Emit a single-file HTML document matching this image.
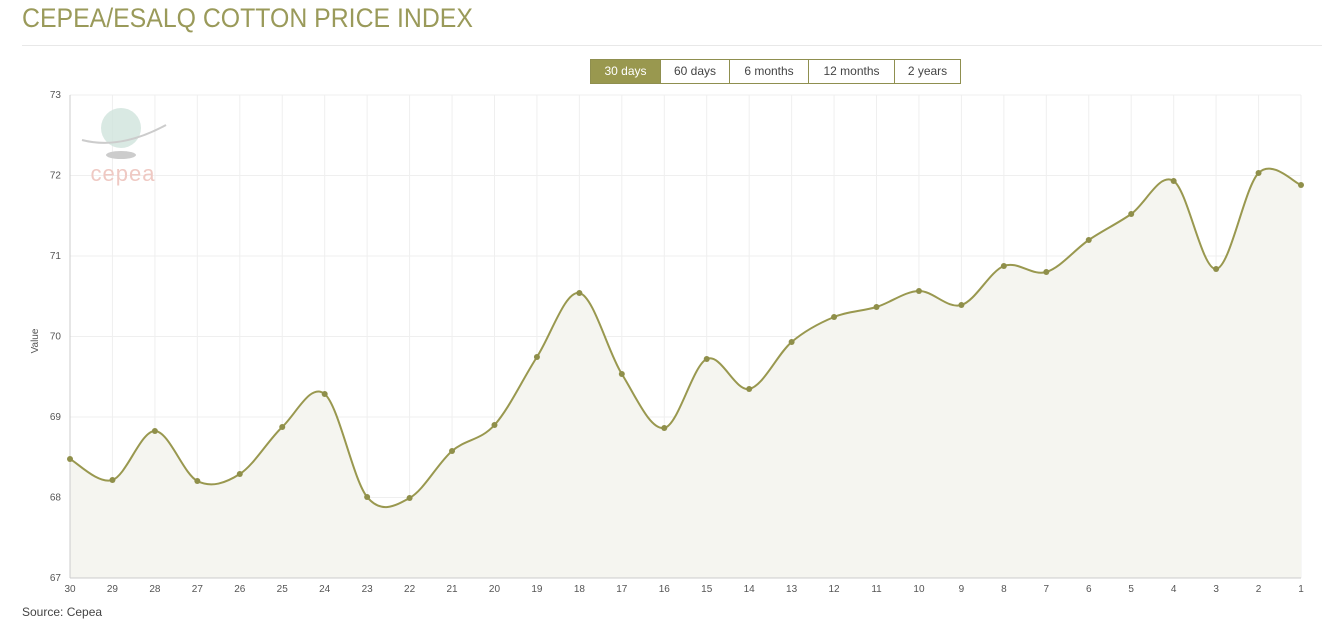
<!DOCTYPE html>
<html><head><meta charset="utf-8"><style>
body{margin:0;background:#fff;width:1322px;height:624px;overflow:hidden;font-family:"Liberation Sans",sans-serif}
h1{position:absolute;left:22px;top:3px;margin:0;font-weight:normal;font-size:27px;color:#9a9a5a;letter-spacing:0;transform:scaleX(0.92);transform-origin:0 0;white-space:nowrap}
.hr{position:absolute;left:22px;top:45px;width:1300px;height:1px;background:#e8e8e8}
.btns{position:absolute;left:590px;top:59px;height:25px;display:flex;border:1px solid #8f8f4f;box-sizing:border-box}
.btns div{font-size:12px;color:#444;line-height:23px;text-align:center;border-left:1px solid #8f8f4f;box-sizing:border-box}
.btns div:first-child{border-left:none;background:#99984f;color:#fff}
.src{position:absolute;left:22px;top:605px;font-size:12px;color:#444}
svg{position:absolute;left:0;top:0}
</style></head><body>
<h1>CEPEA/ESALQ COTTON PRICE INDEX</h1>
<div class="hr"></div>
<div class="btns"><div style="width:69px">30 days</div><div style="width:69px">60 days</div><div style="width:79px">6 months</div><div style="width:86px">12 months</div><div style="width:66px">2 years</div></div>
<svg id="s" width="1322" height="624" xmlns="http://www.w3.org/2000/svg">
<g id="grid" stroke="#efefef" stroke-width="1"></g>
<g font-size="10" fill="#555" text-anchor="end" id="yl"></g>
<g font-size="10" fill="#555" text-anchor="middle" id="xl"></g>
<text x="38" y="341" font-size="10" fill="#555" transform="rotate(-90 38 341)" text-anchor="middle">Value</text>
<circle cx="121" cy="128" r="20" fill="#cfe3dc" opacity="0.8"/>
<ellipse cx="121" cy="155" rx="15" ry="4" fill="#ccc"/>
<path d="M82 140 Q120 150 166 125" stroke="#ccc" stroke-width="2" fill="none"/>
<text x="123" y="181" font-size="22" fill="#efc9c3" text-anchor="middle" letter-spacing="1">cepea</text>
<path id="area" fill="#f5f5f0"/>
<line x1="70" y1="578" x2="1301" y2="578" stroke="#ccc"/>
<line x1="70" y1="95" x2="70" y2="578" stroke="#ccc"/>
<path id="line" fill="none" stroke="#99984f" stroke-width="2"/>
<g id="pts" fill="#8f8f4a"></g>
</svg>
<div class="src">Source: Cepea</div>
<script>
var ys=[459,480,431,481,474,427,394,497,498,451,425,357,293,374,428,359,389,342,317,307,291,305,266,272,240,214,181,269,173,185];
var x0=70,x1=1301,n=30,st=(x1-x0)/29,N="http://www.w3.org/2000/svg";
function el(t,a,p){var e=document.createElementNS(N,t);for(var k in a)e.setAttribute(k,a[k]);p.appendChild(e);return e}
var g=document.getElementById('grid'),yl=document.getElementById('yl'),xl=document.getElementById('xl');
for(var v=67;v<=73;v++){var y=578-(v-67)*80.5;el('line',{x1:70,x2:1301,y1:y,y2:y},g);el('text',{x:61,y:y+3},yl).textContent=v;}
var P=[];for(var i=0;i<n;i++){var x=x0+i*st;P.push([x,ys[i]]);el('line',{x1:x,x2:x,y1:95,y2:578},g);el('text',{x:x,y:592},xl).textContent=30-i;}
var d="M"+P[0][0]+" "+P[0][1];
for(var i=0;i<n-1;i++){var p0=P[Math.max(i-1,0)],p1=P[i],p2=P[i+1],p3=P[Math.min(i+2,n-1)],t=6;
d+=" C"+(p1[0]+(p2[0]-p0[0])/t)+" "+(p1[1]+(p2[1]-p0[1])/t)+" "+(p2[0]-(p3[0]-p1[0])/t)+" "+(p2[1]-(p3[1]-p1[1])/t)+" "+p2[0]+" "+p2[1];}
document.getElementById('line').setAttribute('d',d);
document.getElementById('area').setAttribute('d',d+" L1301 578 L70 578Z");
var pts=document.getElementById('pts');P.forEach(function(p){el('circle',{cx:p[0],cy:p[1],r:3},pts)});
</script>
</body></html>
